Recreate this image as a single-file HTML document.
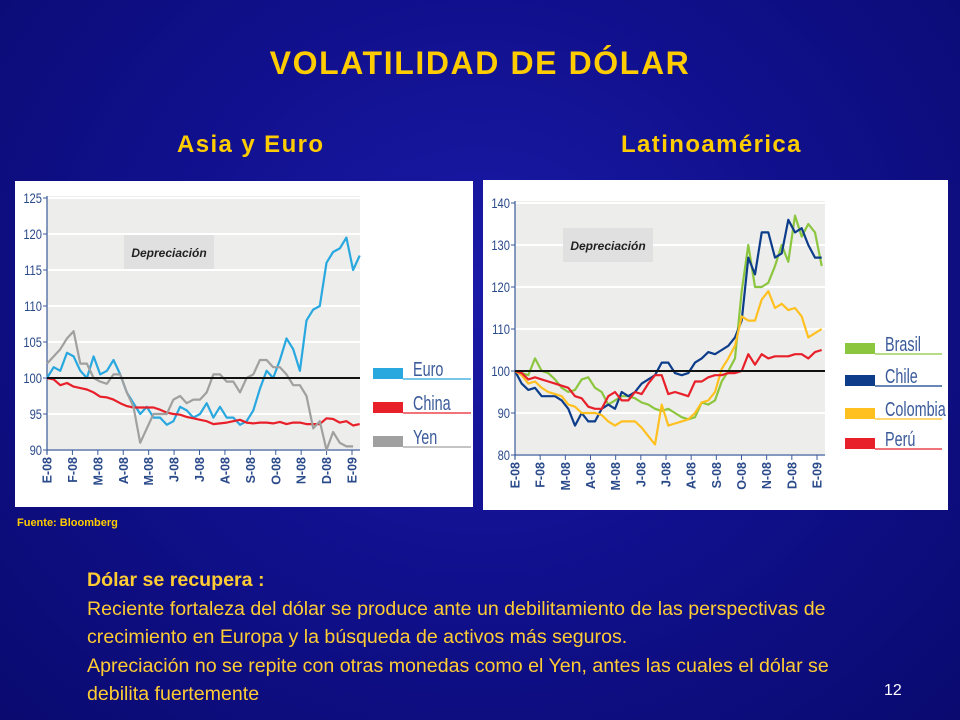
<!DOCTYPE html>
<html><head><meta charset="utf-8"><style>
body{margin:0;width:960px;height:720px;overflow:hidden;font-family:"Liberation Sans",sans-serif;}
#bg{position:absolute;left:0;top:0;width:960px;height:720px;background:radial-gradient(ellipse at 50% 40%,#1a1aa8 0%,#10108c 50%,#0a0a70 100%);}
.t{position:absolute;color:#ffcc00;font-weight:bold;white-space:nowrap;}
.b{position:absolute;color:#ffcc33;font-size:19.6px;left:87px;line-height:28.5px;white-space:nowrap;}
svg{position:absolute;left:0;top:0;}
</style></head><body>
<div id="bg"></div>
<div class="t" style="left:0;width:960px;text-align:center;top:45px;font-size:32px;letter-spacing:1.6px;">VOLATILIDAD DE DÓLAR</div>
<div class="t" style="left:177px;top:131px;font-size:24px;letter-spacing:1.4px;">Asia y Euro</div>
<div class="t" style="left:621px;top:131px;font-size:24px;letter-spacing:1.4px;">Latinoamérica</div>
<div class="t" style="left:17px;top:517px;font-size:11px;">Fuente: Bloomberg</div>
<div class="b" style="top:566px;">
<b>Dólar se recupera :</b><br>Reciente fortaleza del dólar se produce ante un debilitamiento de las perspectivas de<br>crecimiento en Europa y la búsqueda de activos más seguros.<br>Apreciación no se repite con otras monedas como el Yen, antes las cuales el dólar se<br>debilita fuertemente</div>
<div style="position:absolute;left:884px;top:682px;color:#fff;font-size:16px;">12</div>
<svg id="chart" width="960" height="720"></svg>
<script>
const monthLabels=["E-08","F-08","M-08","A-08","M-08","J-08","J-08","A-08","S-08","O-08","N-08","D-08","E-09"];
const leftTicks=[90,95,100,105,110,115,120,125];
const rightTicks=[80,90,100,110,120,130,140];
const euro=[100,101.5,101,103.5,103,101,100,103,100.5,101,102.5,100.5,98,96.5,95,96,94.5,94.5,93.5,94,96,95.5,94.5,95,96.5,94.5,96,94.5,94.5,93.5,94,95.5,98.5,101,100,102.5,105.5,104,101,108,109.5,110,116,117.5,118,119.5,115,117];
const china=[100,99.8,99,99.3,98.8,98.6,98.4,98,97.4,97.3,97,96.5,96.1,95.9,95.9,95.9,95.9,95.6,95.2,95,94.9,94.6,94.4,94.2,94,93.6,93.7,93.8,94,94.2,93.8,93.7,93.8,93.8,93.7,93.9,93.6,93.8,93.8,93.6,93.6,93.6,94.4,94.3,93.8,94,93.4,93.6];
const yen=[102,103,104,105.5,106.5,102,102,100,99.5,99.2,100.5,100.5,98,96,91,93,95,95,95,97,97.5,96.5,97,97,98,100.5,100.5,99.5,99.5,98,100,100.5,102.5,102.5,101.5,101.5,100.5,99,99,97.5,93,94,90,92.5,91,90.5,90.5];
const brasil=[100,99.5,99,103,100,99.5,98,96,95,95.5,98,98.5,96,95,92,93,94,94,93.5,92.5,92,91,90.5,91,90,89,88.5,89,92.5,92,93,97.5,100,103,119,130,120,120,121,125,130,126,137,132,135,133,125];
const chile=[100,97,95.5,96,94,94,94,93,91,87,90,88,88,91,92,91,95,94,95,97,98,99,102,102,99.5,99,99.5,102,103,104.5,104,105,106,108,112,127,123,133,133,127,128,136,133,134,130,127,127];
const colombia=[100,99,97,97.5,96,95,94.5,94,92,91.5,90,90,90,89.5,88,87,88,88,88,86.5,84.5,82.5,92,87,87.5,88,88.5,90,92.5,93,95,100.5,103,106,113,112,112,117,119,115,116,114.5,115,113,108,109,110];
const peru=[100,99.5,98,98.5,98,97.5,97,96.5,96,94,93.5,91.5,91,91,94,95,93,93,95,94.5,97,99,99,94.5,95,94.5,94,97.5,97.5,98.5,99,99,99.5,99.5,100,104,101.5,104,103,103.5,103.5,103.5,104,104,103,104.5,105];
const leftStep=0.2618, rightStep=0.2649;
const NS="http://www.w3.org/2000/svg";
const svg=document.getElementById('chart');
function mk(t,a,p){const e=document.createElementNS(NS,t);for(const k in a)e.setAttribute(k,a[k]);(p||svg).appendChild(e);return e;}
function chart(cfg){
  const g=mk('g',{});
  
  
  const xs=m=>cfg.x0+m*(cfg.x12-cfg.x0)/12;
  const ys=v=>cfg.yb+(v-cfg.vmin)*(cfg.yt-cfg.yb)/(cfg.vmax-cfg.vmin);
  const box=mk('rect',{x:cfg.bx,y:cfg.by,width:cfg.bw,height:cfg.bh,fill:'#fff'},g);
  
  
  mk('rect',{x:cfg.x0,y:ys(cfg.vmax)-2,width:cfg.xr-cfg.x0,height:ys(cfg.vmin)-ys(cfg.vmax)+2,fill:'#ededeb'},g);
  cfg.ticks.forEach(v=>{
    mk('line',{x1:cfg.x0,x2:cfg.xr,y1:ys(v),y2:ys(v),stroke:'#fff','stroke-width':2},g);
    mk('line',{x1:cfg.x0-4,x2:cfg.x0,y1:ys(v),y2:ys(v),stroke:'#3a5a9a','stroke-width':1},g);
    const t=mk('text',{transform:`translate(${cfg.x0-5},${ys(v)+5}) scale(0.8,1)`,'text-anchor':'end','font-size':14,fill:'#2a4a8a'},g);
    t.textContent=v;
    
    
  });
  mk('line',{x1:cfg.x0,x2:cfg.x0,y1:ys(cfg.vmax)-2,y2:ys(cfg.vmin)+4,stroke:'#3a5a9a','stroke-width':1.2},g);
  mk('line',{x1:cfg.x0,x2:cfg.xr,y1:ys(cfg.vmin),y2:ys(cfg.vmin),stroke:'#3a5a9a','stroke-width':1.2},g);
  monthLabels.forEach((l,i)=>{
    const x=xs(i);
    mk('line',{x1:x,x2:x,y1:ys(cfg.vmin),y2:ys(cfg.vmin)+5,stroke:'#3a5a9a'},g);
    const t=mk('text',{transform:`translate(${x+4.5},${ys(cfg.vmin)+7}) rotate(-90)`,'text-anchor':'end','font-size':12.5,'font-weight':'bold',fill:'#2a4a8a'},g);
    t.textContent=l;
    
    
  });
  mk('rect',{x:cfg.lbx,y:cfg.lby,width:90,height:34,fill:'#e0e0e0'},g);
  const lt=mk('text',{x:cfg.lbx+45,y:cfg.lby+22,'text-anchor':'middle','font-size':12,'font-weight':'bold','font-style':'italic',fill:'#222'},g);
  lt.textContent='Depreciación';
  
  
  cfg.series.forEach(s=>{
    const pts=s.data.map((v,i)=>xs(i*cfg.step).toFixed(1)+','+ys(v).toFixed(1)).join(' ');
    const pl=mk('polyline',{points:pts,fill:'none',stroke:s.color,'stroke-width':2.2,'stroke-linejoin':'round'},g);
    
    
  });
  mk('line',{x1:cfg.x0,x2:cfg.xr,y1:ys(100),y2:ys(100),stroke:'#111','stroke-width':2},g);
  cfg.series.forEach((s,k)=>{
    const y=cfg.legY[k];
    const sw=mk('rect',{x:cfg.legX,y:y,width:30,height:11,fill:s.color},g);
    
    
    mk('line',{x1:cfg.legX+30,x2:cfg.legEnd,y1:y+11,y2:y+11,stroke:s.color,'stroke-width':1.2},g);
    const t=mk('text',{transform:`translate(${cfg.legX+40},${y+8}) scale(0.72,1)`,'font-size':20,fill:'#3a5a9a'},g);
    t.textContent=s.label;
    
    
  });
}
chart({name:'left-chart',bx:15,by:181,bw:458,bh:326,x0:47,x12:352,xr:360,yt:198,yb:450,vmin:90,vmax:125,ticks:leftTicks,step:leftStep,lbx:124,lby:235,
  series:[{label:'Euro',data:euro,color:'#29a8e0'},{label:'China',data:china,color:'#e8202a'},{label:'Yen',data:yen,color:'#a0a0a0'}],
  legX:373,legY:[368,402,436],legEnd:471});
chart({name:'right-chart',bx:483,by:180,bw:465,bh:330,x0:515,x12:817,xr:825,yt:203,yb:455,vmin:80,vmax:140,ticks:rightTicks,step:rightStep,lbx:563,lby:228,
  series:[{label:'Brasil',data:brasil,color:'#8cc63f'},{label:'Chile',data:chile,color:'#0d3d8a'},{label:'Colombia',data:colombia,color:'#ffc020'},{label:'Perú',data:peru,color:'#e8202a'}],
  legX:845,legY:[343,375,408,438],legEnd:942});
</script>
</body></html>
